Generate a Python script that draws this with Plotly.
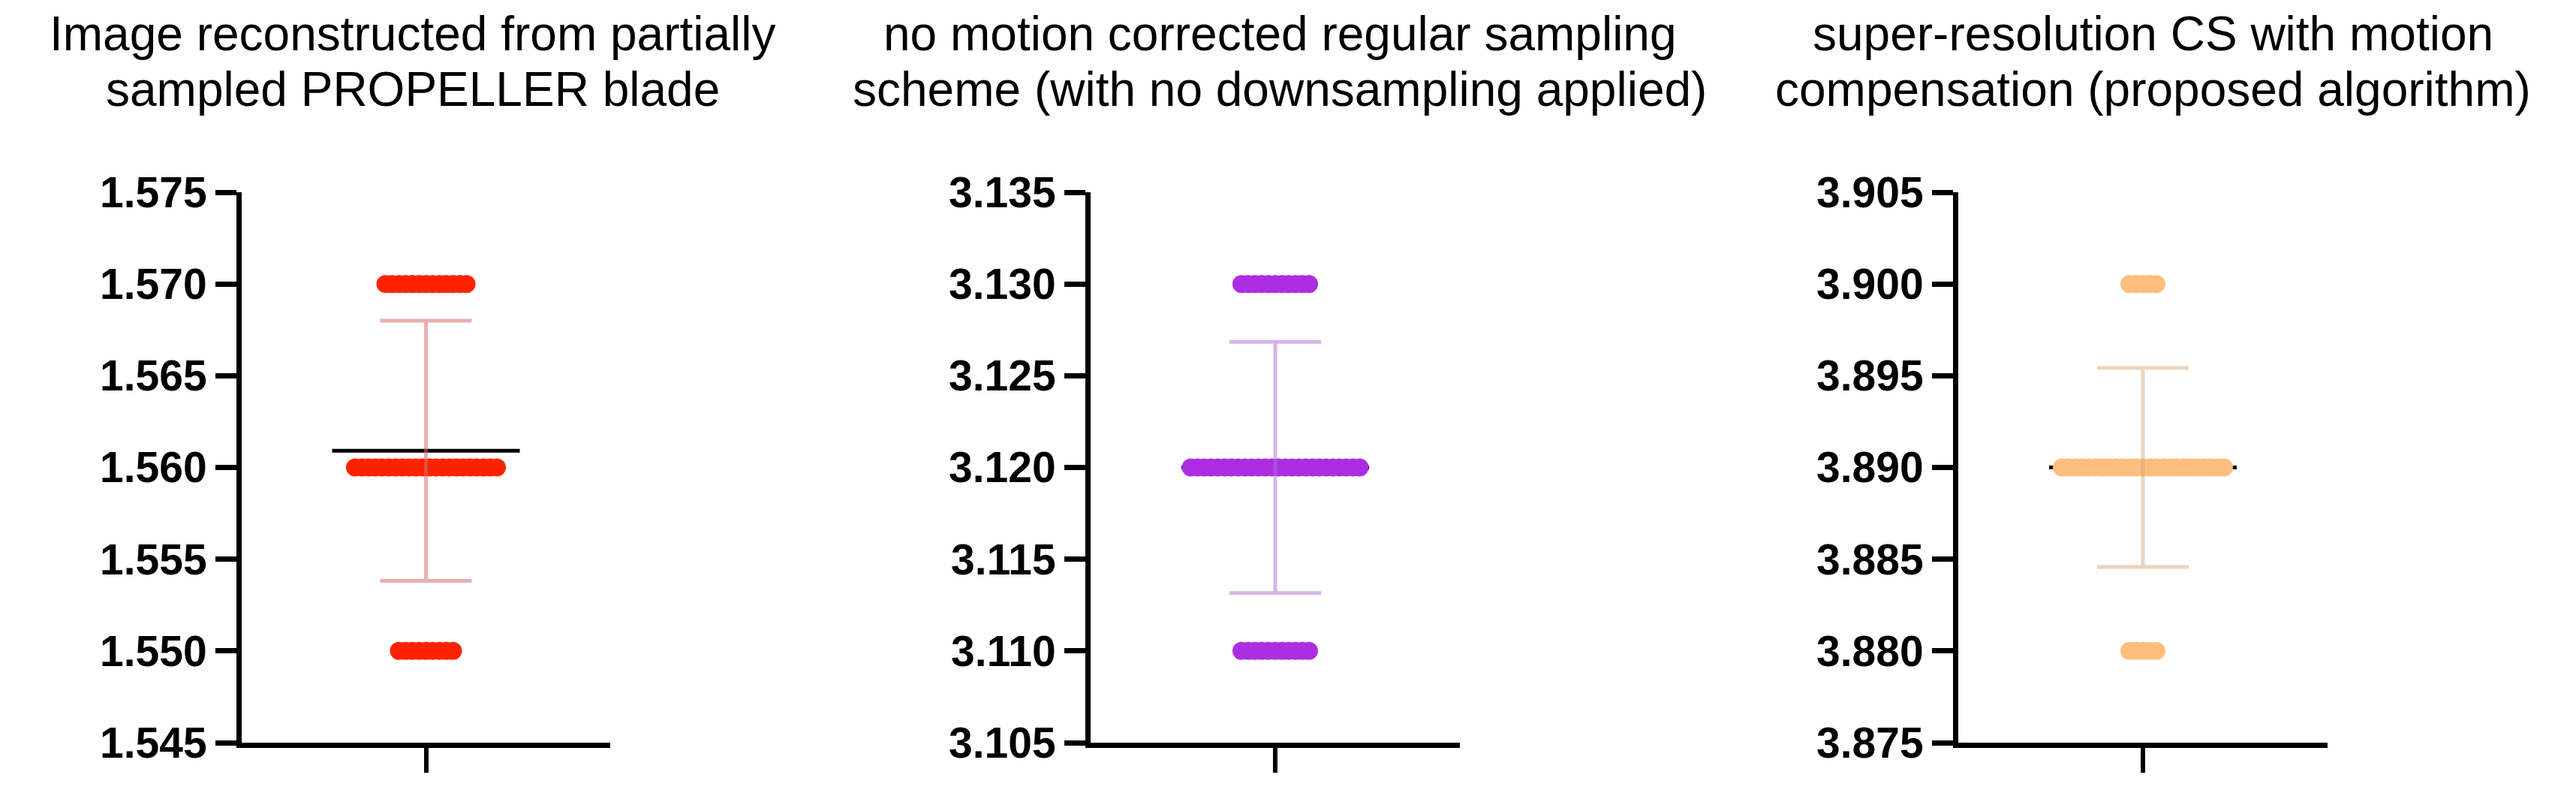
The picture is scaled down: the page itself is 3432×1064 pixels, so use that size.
import numpy as np
import plotly.graph_objects as go

# panel titles, one list per panel (two lines each)
titles = [
    ["Image reconstructed from partially", "sampled PROPELLER blade"],
    ["no motion corrected regular sampling", "scheme (with no downsampling applied)"],
    ["super-resolution CS with motion", "compensation (proposed algorithm)"],
]

# distinct measured values and how many points sit on each
levels_1 = [1.550, 1.560, 1.570]
counts_1 = [9, 22, 13]
levels_2 = [3.110, 3.120, 3.130]
counts_2 = [11, 26, 11]
levels_3 = [3.880, 3.890, 3.900]
counts_3 = [5, 25, 5]

# y tick labels of each panel
ticks_1 = [1.545, 1.550, 1.555, 1.560, 1.565, 1.570, 1.575]
ticks_2 = [3.105, 3.110, 3.115, 3.120, 3.125, 3.130, 3.135]
ticks_3 = [3.875, 3.880, 3.885, 3.890, 3.895, 3.900, 3.905]

dot_colors = ["#FF2200", "#AC2EE2", "#FFBE7D"]
err_colors = ["rgba(215,110,110,0.55)", "rgba(175,110,205,0.5)", "rgba(210,160,115,0.45)"]

W, H = 3432, 1064
OFF = 8  # page margin of the html body
x_px = [(322 - OFF, 813 - OFF), (1453 - OFF, 1945 - OFF), (2609 - OFF, 3101 - OFF)]
title_x_px = [550 - OFF, 1705 - OFF, 2868 - OFF]
title_y_px = [45 - OFF, 119 - OFF]
y_dom = [(H - 989 + OFF) / H, (H - 256 + OFF) / H]

DOT_STEP = 9      # px between neighbouring dots on one value
DOT_SIZE = 24
MEAN_LEN = 250
CAP_HALF = 61

panels = [(levels_1, counts_1, ticks_1), (levels_2, counts_2, ticks_2), (levels_3, counts_3, ticks_3)]

fig = go.Figure()
axis_font = dict(family="Liberation Sans, Arial", size=57, color="black", weight="bold")

for i, (levels, counts, ticks) in enumerate(panels):
    xa = "x" if i == 0 else f"x{i+1}"
    ya = "y" if i == 0 else f"y{i+1}"
    vals = np.repeat(levels, counts)
    mean = vals.mean()
    sd = vals.std(ddof=1)

    # px -> data units on x (range -1..1)
    unit = (x_px[i][1] - x_px[i][0]) / 2.0
    xs = []
    for n in counts:
        xs += [(k - (n - 1) / 2) * DOT_STEP / unit for k in range(n)]

    # mean line (line-ew marker is 1.4 * size long)
    fig.add_trace(go.Scatter(
        x=[0], y=[mean], xaxis=xa, yaxis=ya, mode="markers",
        marker=dict(symbol="line-ew", size=MEAN_LEN / 1.4, line=dict(width=5, color="black")),
        hoverinfo="skip"))
    fig.add_trace(go.Scatter(
        x=xs, y=vals, xaxis=xa, yaxis=ya, mode="markers",
        marker=dict(size=DOT_SIZE, color=dot_colors[i], line=dict(width=0))))
    fig.add_trace(go.Scatter(
        x=[0], y=[mean], xaxis=xa, yaxis=ya, mode="markers",
        marker=dict(size=1, color="rgba(0,0,0,0)"),
        error_y=dict(type="data", array=[sd], width=CAP_HALF, thickness=5, color=err_colors[i])))

    key = "" if i == 0 else str(i + 1)
    fig.layout["xaxis" + key] = dict(
        domain=[x_px[i][0] / W, x_px[i][1] / W], range=[-1, 1], anchor=ya, automargin=False,
        showgrid=False, zeroline=False, showline=True, linecolor="black", linewidth=7,
        tickvals=[0], ticktext=[""], ticks="outside", ticklen=33, tickwidth=6, tickcolor="black")
    fig.layout["yaxis" + key] = dict(
        domain=y_dom, range=[ticks[0], ticks[-1]], anchor=xa, automargin=False,
        showgrid=False, zeroline=False, showline=True, linecolor="black", linewidth=7,
        tickvals=ticks, tickformat=".3f", ticks="outside", ticklen=28, tickwidth=7,
        tickcolor="black", tickfont=axis_font)

    for j, line in enumerate(titles[i]):
        fig.add_annotation(
            text=line, xref="paper", yref="paper", x=title_x_px[i] / W, y=1 - title_y_px[j] / H,
            xanchor="center", yanchor="middle", showarrow=False, borderpad=0,
            font=dict(family="Liberation Sans, Arial", size=64, color="black"))

fig.update_layout(
    width=W, height=H, margin=dict(l=0, r=0, t=0, b=0),
    paper_bgcolor="white", plot_bgcolor="white", showlegend=False)

fig.write_html("out.html")
